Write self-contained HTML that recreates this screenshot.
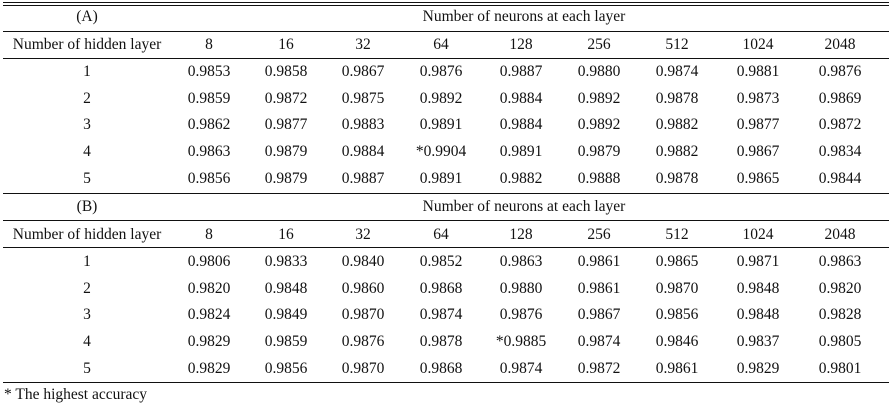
<!DOCTYPE html>
<html><head><style>
body{margin:0;width:892px;height:411px;background:#fff;position:relative;font-family:"Liberation Serif",serif;font-size:15.5px;color:#111;overflow:hidden}
.l{position:absolute;left:3px;width:886px;height:1px;background:#111}
.t{position:absolute;transform:translate(-50%,-50%);white-space:nowrap}
</style></head><body>
<div class="l" style="top:2px"></div><div class="l" style="top:5px"></div>
<div class="l" style="top:31px"></div><div class="l" style="top:58px"></div>
<div class="l" style="top:193px"></div><div class="l" style="top:220px"></div>
<div class="l" style="top:247px"></div><div class="l" style="top:382px"></div>
<div class="t" style="top:395px;transform:translate(0,-50%);left:4px">* The highest accuracy</div>
<div id="c"></div>
<script>
const X=[87,209,286,363,441,521,599,677,758,840];
const hdr=["Number of hidden layer","8","16","32","64","128","256","512","1024","2048"];
const A=[["0.9853","0.9858","0.9867","0.9876","0.9887","0.9880","0.9874","0.9881","0.9876"],
["0.9859","0.9872","0.9875","0.9892","0.9884","0.9892","0.9878","0.9873","0.9869"],
["0.9862","0.9877","0.9883","0.9891","0.9884","0.9892","0.9882","0.9877","0.9872"],
["0.9863","0.9879","0.9884","*0.9904","0.9891","0.9879","0.9882","0.9867","0.9834"],
["0.9856","0.9879","0.9887","0.9891","0.9882","0.9888","0.9878","0.9865","0.9844"]];
const B=[["0.9806","0.9833","0.9840","0.9852","0.9863","0.9861","0.9865","0.9871","0.9863"],
["0.9820","0.9848","0.9860","0.9868","0.9880","0.9861","0.9870","0.9848","0.9820"],
["0.9824","0.9849","0.9870","0.9874","0.9876","0.9867","0.9856","0.9848","0.9828"],
["0.9829","0.9859","0.9876","0.9878","*0.9885","0.9874","0.9846","0.9837","0.9805"],
["0.9829","0.9856","0.9870","0.9868","0.9874","0.9872","0.9861","0.9829","0.9801"]];
let h="";
function t(x,y,s){h+=`<div class="t" style="left:${x}px;top:${y}px">${s}</div>`;}
function sec(lab,y0,d){
 t(87,y0,lab);t(524,y0,"Number of neurons at each layer");
 hdr.forEach((s,i)=>t(X[i],y0+28,s));
 d.forEach((r,j)=>{let y=y0+55+j*26.7;t(X[0],y,j+1);r.forEach((s,i)=>t(X[i+1],y,s));});
}
sec("(A)",17,A);sec("(B)",207,B);
document.getElementById("c").innerHTML=h;
</script>
</body></html>
